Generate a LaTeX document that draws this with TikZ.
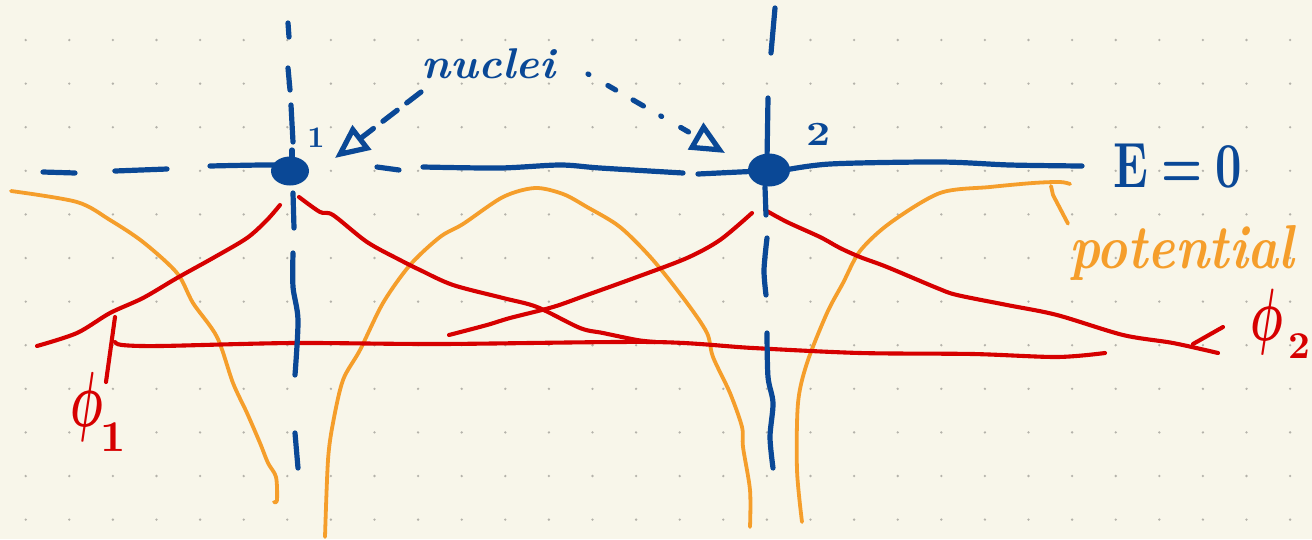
\documentclass[tikz,border=0pt]{standalone}
\usepackage{bm}
\usetikzlibrary{arrows.meta,shapes.geometric}
\definecolor{inkblue}{HTML}{0A4896}
\definecolor{inkred}{HTML}{D60000}
\definecolor{inkorange}{HTML}{F59E2B}
\definecolor{paper}{HTML}{F8F6EA}
\definecolor{griddot}{HTML}{B4B2AA}
\begin{document}
\begin{tikzpicture}[x=1pt,y=-1pt,line cap=round,line join=round,
  blueline/.style={draw=inkblue,line width=5.2pt},
  redline/.style={draw=inkred,line width=4.1pt},
  orangeline/.style={draw=inkorange,line width=3.8pt},
  nucleus/.style={ellipse,fill=inkblue,minimum width=38pt,minimum height=29pt,inner sep=0pt},
  bluetext/.style={text=inkblue,inner sep=0pt},
  redtext/.style={text=inkred,inner sep=0pt},
  orangetext/.style={text=inkorange,inner sep=0pt},
  sketchtip/.style={-{Triangle[open,length=34pt,width=30pt]}}]
\fill[paper] (0,0) rectangle (1312,539);
\useasboundingbox (0,0) rectangle (1312,539);
% dot grid
\foreach \i in {0,...,29}{
  \foreach \j in {0,...,11}{
    \fill[griddot] (25.7+43.6*\i,40+43.6*\j) circle (1.3pt);
  }
}
% ---------- orange potential ----------
\draw[orangeline] plot[smooth,tension=0.5] coordinates {(11,191) (77,202) (110,220) (143,242) (177,273) (193,303) (217,337) (233,383) (247,413) (260,443) (268,463) (276,477) (277,500) (274,502)};
\draw[orangeline] plot[smooth,tension=0.5] coordinates {(325,537) (328,460) (333,423) (343,380) (360,350) (383,303) (410,265) (440,237) (463,224) (503,197) (535,188) (563,194) (587,207) (620,227) (653,260) (687,303) (707,333) (713,357) (730,393) (742,427) (743,447) (750,490) (750,527)};
\draw[orangeline] plot[smooth,tension=0.5] coordinates {(802,522) (797,470) (798,403) (807,363) (827,313) (843,283) (860,251) (890,223) (940,193) (990,187) (1033,183) (1060,182) (1070,184)};
% ---------- red orbitals ----------
\draw[redline] plot[smooth,tension=0.5] coordinates {(37,346) (77,333) (110,313) (143,298) (177,278) (213,258) (247,238) (267,220) (280,205)};
\draw[redline] plot[smooth,tension=0.5] coordinates {(299,197) (320,212) (333,215) (367,242) (400,260) (420,270) (453,285) (503,298) (537,307) (580,328) (603,333) (637,340) (655,342)};
\draw[redline] plot[smooth,tension=0.5] coordinates {(449,335) (487,325) (510,318) (553,307) (587,295) (637,277) (687,258) (720,240) (752,213)};
\draw[redline] plot[smooth,tension=0.5] coordinates {(765,210) (787,222) (820,237) (840,248) (860,257) (887,267) (937,288) (957,295) (1007,305) (1057,315) (1123,335) (1173,343) (1218,353)};
\draw[redline] plot[smooth,tension=0.5] coordinates {(115,342) (122,345) (160,346) (293,343) (440,344) (653,342) (753,348) (860,353) (973,354) (1057,357) (1105,353)};
% ---------- blue axes ----------
\draw[blueline] (288,23) -- (289,37);
\draw[blueline] (288,68) -- (290,90);
\draw[blueline] (291,105) -- (293,142);
\draw[blueline] (292,150) -- (292,160);
\draw[blueline] (293,193) -- (294,228);
\draw[blueline] plot[smooth] coordinates {(293,253) (293,287) (298,320) (295,375)};
\draw[blueline] (295,433) -- (298,468);
\draw[blueline] (775,8) -- (771,53);
\draw[blueline] (768,98) -- (767,160);
\draw[blueline] (765,187) -- (766,215);
\draw[blueline] plot[smooth] coordinates {(767,238) (764,270) (766,295)};
\draw[blueline] plot[smooth] coordinates {(767,333) (768,377) (773,403) (770,437) (773,468)};
\draw[blueline] (43,172) -- (75,173);
\draw[blueline] (115,171) -- (167,169);
\draw[blueline] plot[smooth] coordinates {(210,166) (273,165) (285,168)};
\draw[blueline] (377,167) -- (399,170);
\draw[blueline] plot[smooth] coordinates {(423,167) (500,168) (560,165) (600,168) (683,173)};
\draw[blueline] (698,174) -- (760,171);
\draw[blueline] plot[smooth] coordinates {(780,171) (830,164) (940,162) (1010,165) (1082,166)};
% nuclei
\node[nucleus] (n1) at (290,171) {};
\node[nucleus,minimum width=42pt,minimum height=33pt] (n2) at (769,170) {};
% labels
\node[bluetext,xscale=4.45,yscale=4.3,anchor=base west] (nucleitext) at (421,78) {\bfseries\itshape nuclei};
\node[bluetext,scale=3] (lab1) at (316,138) {\bfseries 1};
\node[bluetext,xscale=4.2,yscale=3.4] (lab2) at (819,134) {\bfseries 2};
\node[bluetext,xscale=4.6,yscale=6.4,anchor=base west] (eq) at (1113,187) {$\mathbf{E}\bm{=}\mathbf{0}$};
\node[orangetext,xscale=5.2,yscale=6.2,anchor=base west] (pot) at (1068,268) {\bfseries\itshape potential};
\node[redtext,xscale=4.6,yscale=7.8] (phi1) at (87,407) {$\bm{\phi}$};
\node[redtext,scale=4.4] (sub1) at (113,437) {\bfseries 1};
\node[redtext,xscale=4.6,yscale=7.4] (phi2) at (1267,322) {$\bm{\phi}$};
\node[redtext,xscale=3.8,yscale=3.8] (sub2) at (1299,346) {\bfseries 2};
% arrows from "nuclei"
\coordinate (aS1) at (421,92);
\coordinate (aT1) at (335,158);
\coordinate (aS2) at (588,74);
\coordinate (aT2) at (725,153);
\draw[blueline,dash pattern=on 18pt off 12pt,sketchtip] (aS1) -- (aT1);
\draw[blueline,dash pattern=on 1pt off 22pt on 9pt off 20pt on 12pt off 20pt,sketchtip] (aS2) -- (aT2);
% leader lines
\coordinate (potEnd) at (1051,186);
\draw[orangeline] (potEnd) -- (1053,195) -- (pot.north west);
\coordinate (phi1tick) at (115,317);
\draw[redline] (phi1tick) -- (106,382);
\draw[redline] (1223,327) -- (1193,344);
\end{tikzpicture}
\end{document}
